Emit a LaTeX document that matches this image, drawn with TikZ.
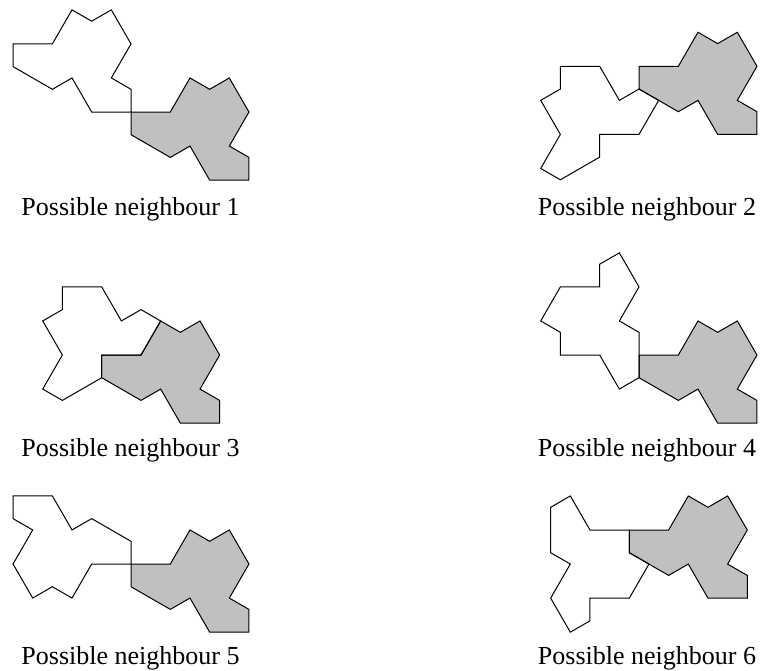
\documentclass[tikz,border=0pt]{standalone}
\usepackage{fontspec}
\setmainfont{Liberation Serif}
\definecolor{tilegray}{RGB}{192,192,192}
\tikzset{
  graytile/.style={fill=tilegray,draw=black,line width=1pt,line join=miter},
  whitetile/.style={draw=black,line width=1pt,line join=miter},
  panel/.style={x=19.66pt,y=-11.35pt},
  caption/.style={anchor=base,inner sep=0pt,font=\fontsize{26}{31}\selectfont}
}
\begin{document}
\begin{tikzpicture}[x=1pt,y=-1pt]
\useasboundingbox (0,0) rectangle (762,670);
% gray hat (common shape)
\def\grayhat{(0,0) -- (2,0) -- (3,-3) -- (4,-2) -- (5,-3) -- (6,0) -- (5,3) -- (6,4) -- (6,6) -- (4,6) -- (3,3) -- (2,4) -- (0,2) -- cycle}
% Panel 1
\begin{scope}[shift={(131,112)},panel]
  \path[graytile] \grayhat;
  \draw[whitetile] (0,-2) -- (-1,-3) -- (0,-6) -- (-1,-9) -- (-2,-8) -- (-3,-9) -- (-4,-6) -- (-6,-6) -- (-6,-4) -- (-4,-2) -- (-3,-3) -- (-2,0) -- (0,0) -- cycle;
\end{scope}
% Panel 2
\begin{scope}[shift={(639,66.3)},panel]
  \path[graytile] \grayhat;
  \draw[whitetile] (0,2) -- (1,3) -- (0,6) -- (-2,6) -- (-2,8) -- (-4,10) -- (-5,9) -- (-4,6) -- (-5,3) -- (-4,2) -- (-4,0) -- (-2,0) -- (-1,3) -- cycle;
\end{scope}
% Panel 3
\begin{scope}[shift={(101.7,355)},panel]
  \path[graytile] \grayhat;
  \draw[whitetile] (0,2) -- (-2,4) -- (-3,3) -- (-2,0) -- (-3,-3) -- (-2,-4) -- (-2,-6) -- (0,-6) -- (1,-3) -- (2,-4) -- (3,-3) -- (2,0) -- (0,0) -- cycle;
\end{scope}
% Panel 4
\begin{scope}[shift={(639,355)},panel]
  \path[graytile] \grayhat;
  \draw[whitetile] (0,2) -- (-1,3) -- (-2,0) -- (-4,0) -- (-4,-2) -- (-5,-3) -- (-4,-6) -- (-2,-6) -- (-2,-8) -- (-1,-9) -- (0,-6) -- (-1,-3) -- (0,-2) -- cycle;
\end{scope}
% Panel 5
\begin{scope}[shift={(131,564)},panel]
  \path[graytile] \grayhat;
  \draw[whitetile] (0,-2) -- (-2,-4) -- (-3,-3) -- (-4,-6) -- (-6,-6) -- (-6,-4) -- (-5,-3) -- (-6,0) -- (-5,3) -- (-4,2) -- (-3,3) -- (-2,0) -- (0,0) -- cycle;
\end{scope}
% Panel 6
\begin{scope}[shift={(629.3,530)},panel]
  \path[graytile] \grayhat;
  \draw[whitetile] (0,2) -- (1,3) -- (0,6) -- (-2,6) -- (-2,8) -- (-3,9) -- (-4,6) -- (-3,3) -- (-4,2) -- (-4,-2) -- (-3,-3) -- (-2,0) -- (0,0) -- cycle;
\end{scope}
% Captions
\node[caption] (c1) at (130.5,215) {Possible neighbour 1};
\node[caption] (c2) at (647,215) {Possible neighbour 2};
\node[caption] (c3) at (130.5,456) {Possible neighbour 3};
\node[caption] (c4) at (647,456) {Possible neighbour 4};
\node[caption] (c5) at (130.5,664) {Possible neighbour 5};
\node[caption] (c6) at (647,664) {Possible neighbour 6};
\end{tikzpicture}
\end{document}
